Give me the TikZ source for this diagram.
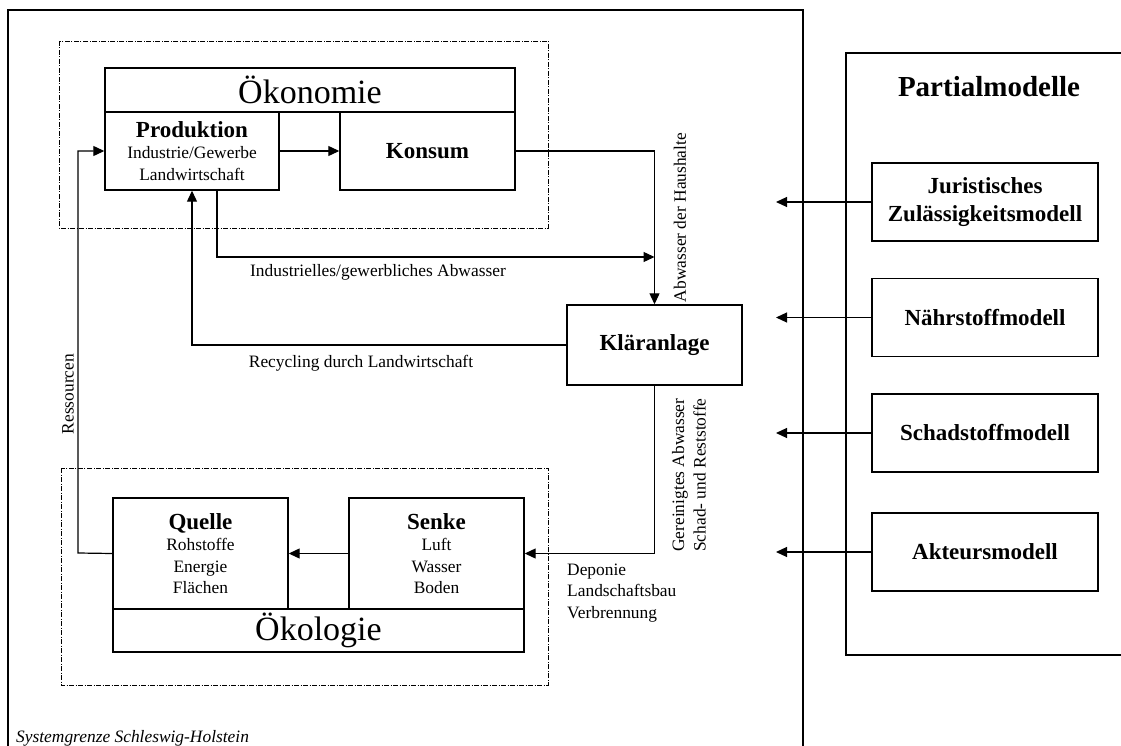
\documentclass[tikz,border=0pt]{standalone}
\usepackage{fontspec}
\setmainfont{Liberation Serif}
\usetikzlibrary{arrows.meta}

\newcommand{\lbltext}{\fontsize{17.4}{21.5}\selectfont}
\newcommand{\headtext}{\bfseries\fontsize{23}{27.5}\selectfont}

\begin{document}
\begin{tikzpicture}[x=1pt, y=-1pt,
  box/.style={draw, line width=1.4pt, inner sep=0pt, align=center, font=\lbltext},
  bigbox/.style={box, font=\fontsize{34}{36}\selectfont},
  modell/.style={box, minimum width=226pt, minimum height=78pt, font=\headtext},
  flow/.style={line width=1.2pt, -{Triangle[length=11pt,width=10pt]}},
  grenze/.style={line width=0.8pt, dash pattern=on 5pt off 1.5pt on 1pt off 1.5pt},
  flowtext/.style={font=\lbltext, inner sep=0pt}]
  \useasboundingbox (0,0) rectangle (1121,746);

  % Systemgrenze und Partialmodelle
  \draw[line width=1.5pt] (8,760) -- (8,10) -- (803,10) -- (803,760);
  \draw[line width=1.3pt] (1130,53) -- (846,53) -- (846,655) -- (1130,655);
  \node[font=\itshape\lbltext, anchor=base west, inner sep=0pt] (grenze) at (16,742) {Systemgrenze Schleswig-Holstein};
  \node[font=\bfseries\fontsize{29}{30}\selectfont] (partial) at (989,87) {Partialmodelle};

  % Oekonomie
  \draw[grenze] (59,41) rectangle (548,228);
  \node[bigbox, minimum width=410pt, minimum height=44pt] (oekonomie) at (310,90) {Ökonomie};
  \node[box, minimum width=174pt, minimum height=78pt] (prod) at (192,151)
    {{\headtext Produktion}\\ Industrie/Gewerbe\\ Landwirtschaft};
  \node[box, minimum width=175pt, minimum height=78pt, font=\headtext] (konsum) at (427.5,151) {Konsum};

  % Oekologie
  \draw[grenze] (61,468) rectangle (548,685);
  \node[box, minimum width=175pt, minimum height=111pt] (quelle) at (200.5,553.5)
    {{\headtext Quelle}\\ Rohstoffe\\ Energie\\ Flächen};
  \node[box, minimum width=175pt, minimum height=111pt] (senke) at (436.5,553.5)
    {{\headtext Senke}\\ Luft\\ Wasser\\ Boden};
  \node[bigbox, minimum width=411pt, minimum height=43pt] (oekologie) at (318.5,630.5) {Ökologie};

  \node[box, minimum width=175pt, minimum height=80pt, font=\headtext] (klaer) at (654.5,345) {Kläranlage};

  % Stoffstroeme
  \coordinate (ind) at (217,257);
  \coordinate (res) at (78,553);
  \draw[flow] (prod) -- (konsum);
  \draw[flow] (konsum.east) -| (klaer.north);
  \draw[flow] (prod.south -| ind) |- (ind -| klaer.north);
  \draw[flow] (klaer.west) -| (prod.south);
  \draw[flow] (quelle.west) -- (res) |- (prod.west);
  \draw[flow] (senke) -- (quelle);
  \draw[flow] (klaer.south) |- (senke.east);

  \node[flowtext] (indtext) at (378,272) {Industrielles/gewerbliches Abwasser};
  \node[flowtext] (rectext) at (361,363) {Recycling durch Landwirtschaft};
  \node[flowtext, rotate=90] (haustext) at (680,217.5) {Abwasser der Haushalte};
  \node[flowtext, rotate=90] (restext) at (68,394) {Ressourcen};
  \node[flowtext, rotate=90, align=left] (reintext) at (689,475)
    {Gereinigtes Abwasser\\ Schad- und Reststoffe};
  \node[flowtext, anchor=west, align=left] (deptext) at (567,593)
    {Deponie\\ Landschaftsbau\\ Verbrennung};

  % Partialmodelle
  \coordinate (pfeilende) at (776,0);
  \foreach \m/\y/\t in {jur/202/{Juristisches\\ Zulässigkeitsmodell},
      naehr/317.5/Nährstoffmodell, schad/433/Schadstoffmodell, akteur/552/Akteursmodell}{
    \node[modell] (\m) at (985,\y) {\t};
    \draw[flow] (\m.west) -- (\m.west -| pfeilende);
  }
\end{tikzpicture}
\end{document}
